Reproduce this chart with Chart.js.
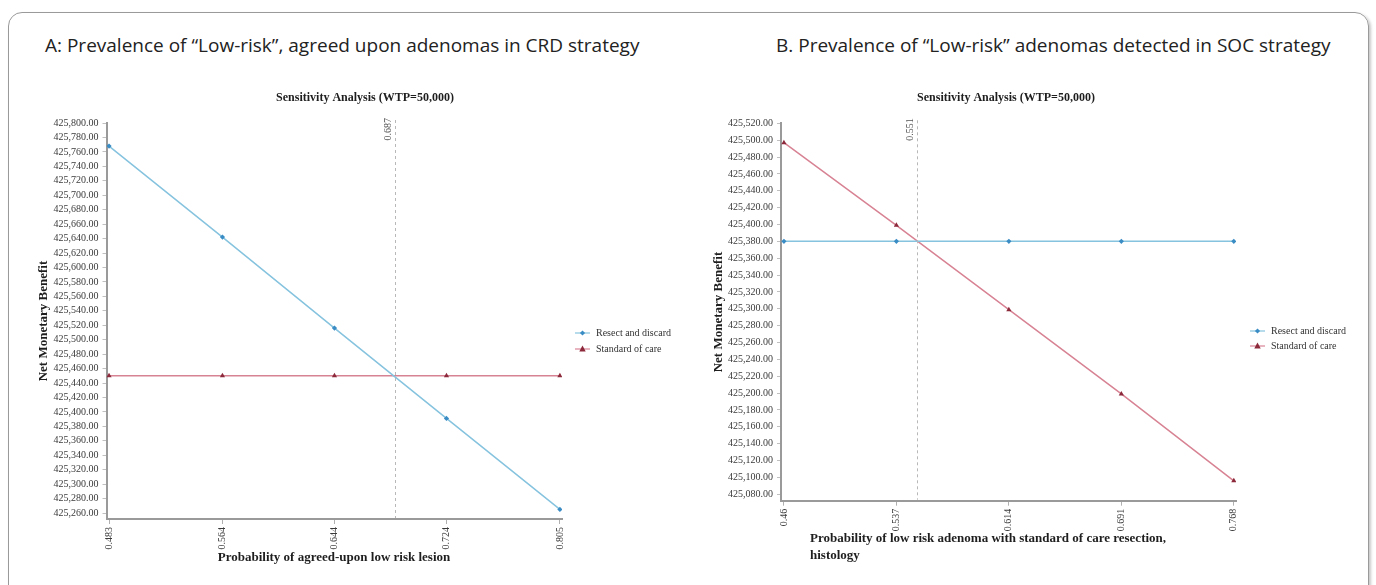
<!DOCTYPE html>
<html><head><meta charset="utf-8">
<script src="https://cdn.jsdelivr.net/npm/chart.js@4.4.0/dist/chart.umd.min.js"></script>
<style>
html,body{margin:0;padding:0;background:#fff;width:1376px;height:585px;overflow:hidden;}
#frame{position:absolute;left:8px;top:12px;width:1359px;height:640px;border:1px solid #9a9a9a;border-radius:14px;box-shadow:2px 2px 3px rgba(0,0,0,0.22);}
.ptitle{position:absolute;top:34px;font-family:"Open Sans",sans-serif;font-size:19px;line-height:23px;color:#222;white-space:nowrap;}
#tA{left:45px}
#tB{left:776px}
canvas{position:absolute;top:60px;}
#chartA{left:0}
#chartB{left:688px}
</style></head><body>
<div id="frame"></div>
<div class="ptitle" id="tA">A: Prevalence of “Low-risk”, agreed upon adenomas in CRD strategy</div>
<div class="ptitle" id="tB">B. Prevalence of “Low-risk” adenomas detected in SOC strategy</div>
<canvas id="chartA" width="688" height="525"></canvas>
<canvas id="chartB" width="688" height="525"></canvas>
<script>
// ---------- data ----------
const chartTitle = 'Sensitivity Analysis (WTP=50,000)';
const seriesNames = ['Resect and discard', 'Standard of care'];

const xA = [0.483, 0.564, 0.644, 0.724, 0.805];
const resectA = [425768, 425642, 425516, 425391, 425265];
const socA = [425450, 425450, 425450, 425450, 425450];
const yTicksA = [425260, 425280, 425300, 425320, 425340, 425360, 425380, 425400, 425420, 425440,
                 425460, 425480, 425500, 425520, 425540, 425560, 425580, 425600, 425620, 425640,
                 425660, 425680, 425700, 425720, 425740, 425760, 425780, 425800];
const thresholdA = 0.687;
const xTitleA = ['Probability of agreed-upon low risk lesion'];

const xB = [0.46, 0.537, 0.614, 0.691, 0.768];
const resectB = [425380, 425380, 425380, 425380, 425380];
const socB = [425497, 425399, 425299, 425199, 425096];
const yTicksB = [425080, 425100, 425120, 425140, 425160, 425180, 425200, 425220, 425240, 425260,
                 425280, 425300, 425320, 425340, 425360, 425380, 425400, 425420, 425440, 425460,
                 425480, 425500, 425520];
const thresholdB = 0.551;
const xTitleB = ['Probability of low risk adenoma with standard of care resection,', 'histology'];

// ---------- helpers ----------
const SERIF = '"Liberation Serif", "Times New Roman", serif';
function fmt(v){
  const s = Number(v).toFixed(2);
  const p = s.split('.');
  return p[0].replace(/\B(?=(\d{3})+(?!\d))/g, ',') + '.' + p[1];
}
function marker(ctx, style, x, y, r, color){
  ctx.fillStyle = color;
  ctx.beginPath();
  if (style === 'rectRot') {
    ctx.moveTo(x, y - r); ctx.lineTo(x + r, y); ctx.lineTo(x, y + r); ctx.lineTo(x - r, y);
  } else {
    ctx.moveTo(x, y - r); ctx.lineTo(x + r * 0.95, y + r * 0.7); ctx.lineTo(x - r * 0.95, y + r * 0.7);
  }
  ctx.closePath(); ctx.fill();
}

const extras = {
  id: 'extras',
  afterDraw(chart, args, o) {
    const ctx = chart.ctx, ca = chart.chartArea, xs = chart.scales.x;
    ctx.save();
    // chart title
    ctx.font = 'bold 12px ' + SERIF;
    ctx.fillStyle = '#1e1e1e';
    ctx.textAlign = 'center';
    ctx.textBaseline = 'middle';
    ctx.fillText(chartTitle, o.titleX, o.titleY);
    // threshold dashed line
    const px = Math.round(xs.getPixelForValue(o.ref)) + 0.5;
    ctx.strokeStyle = '#b8b8b8';
    ctx.lineWidth = 1;
    ctx.setLineDash([3, 3]);
    ctx.beginPath(); ctx.moveTo(px, ca.top - 3); ctx.lineTo(px, ca.bottom - 1); ctx.stroke();
    ctx.setLineDash([]);
    ctx.save();
    ctx.translate(px - 7, ca.top - 5);
    ctx.rotate(-Math.PI / 2);
    ctx.font = '10px ' + SERIF;
    ctx.fillStyle = '#555';
    ctx.textAlign = 'right';
    ctx.textBaseline = 'middle';
    ctx.fillText(String(o.ref), 0, 0);
    ctx.restore();
    // legend
    chart.data.datasets.forEach((ds, i) => {
      const ly = o.legendY[i];
      ctx.strokeStyle = ds.borderColor;
      ctx.lineWidth = 1.2;
      ctx.beginPath(); ctx.moveTo(o.legendX, ly); ctx.lineTo(o.legendX + 15, ly); ctx.stroke();
      marker(ctx, ds.pointStyle, o.legendX + 7.5, ly, ds.pointStyle === 'rectRot' ? 2.6 : 3.4, ds.pointBackgroundColor);
      ctx.font = '10px ' + SERIF;
      ctx.fillStyle = '#333';
      ctx.textAlign = 'left';
      ctx.textBaseline = 'middle';
      ctx.fillText(ds.label, o.legendX + 21, ly + 0.5);
    });
    // x axis title
    ctx.font = 'bold 13px ' + SERIF;
    ctx.fillStyle = '#1e1e1e';
    ctx.textAlign = o.xTitleAlign;
    ctx.textBaseline = 'middle';
    o.xTitle.forEach((t, i) => ctx.fillText(t, o.xTitleX, o.xTitleY + i * 17));
    ctx.restore();
  }
};

function makeChart(id, xs, resect, soc, yTicks, cfg) {
  return new Chart(document.getElementById(id), {
    type: 'line',
    data: {
      datasets: [
        { label: seriesNames[0], data: xs.map((x, i) => ({x: x, y: resect[i]})),
          borderColor: '#86c3de', borderWidth: 1.5, pointStyle: 'rectRot', pointRadius: 2.6,
          pointBackgroundColor: '#3a8cc4', pointBorderColor: '#3a8cc4', pointBorderWidth: 0, tension: 0 },
        { label: seriesNames[1], data: xs.map((x, i) => ({x: x, y: soc[i]})),
          borderColor: '#d88394', borderWidth: 1.5, pointStyle: 'triangle', pointRadius: 3,
          pointBackgroundColor: '#8c2a3c', pointBorderColor: '#8c2a3c', pointBorderWidth: 0, tension: 0 }
      ]
    },
    options: {
      responsive: false,
      animation: false,
      layout: { padding: { left: 0, top: cfg.padTop, right: cfg.padRight, bottom: 0 } },
      plugins: { legend: { display: false }, tooltip: { enabled: false }, title: { display: false }, extras: cfg.extras },
      scales: {
        x: {
          type: 'linear', min: cfg.xMin, max: cfg.xMax,
          afterBuildTicks: s => { s.ticks = xs.map(v => ({ value: v })); },
          afterFit: s => { s.height = cfg.xHeight; },
          ticks: { callback: v => String(v), minRotation: 90, maxRotation: 90, autoSkip: false,
                   font: { family: SERIF, size: 10 }, color: '#3a3a3a', padding: 3 },
          grid: { display: true, drawOnChartArea: false, drawTicks: true, tickLength: 5, color: '#b0b0b0' },
          border: { display: true, color: '#9a9a9a', width: 2 }
        },
        y: {
          type: 'linear', min: cfg.yMin, max: cfg.yMax,
          afterBuildTicks: s => { s.ticks = yTicks.map(v => ({ value: v })); },
          afterFit: s => { s.width = cfg.yWidth; },
          ticks: { callback: v => fmt(v), autoSkip: false, font: { family: SERIF, size: 10 }, color: '#3a3a3a', padding: 4 },
          grid: { display: true, drawOnChartArea: false, drawTicks: true, tickLength: 4, color: '#c0c0c0' },
          border: { display: true, color: '#9a9a9a', width: 2 },
          title: { display: true, text: 'Net Monetary Benefit', color: '#1e1e1e',
                   font: { family: SERIF, size: 13, weight: 'bold' }, padding: { top: cfg.yTitlePad, bottom: 0 } }
        }
      }
    },
    plugins: [extras]
  });
}

makeChart('chartA', xA, resectA, socA, yTicksA, {
  padTop: 63, padRight: 126, xHeight: 66, yWidth: 106.5, yTitlePad: 36,
  xMin: 0.4812, xMax: 0.8065, yMin: 425251.7, yMax: 425800,
  extras: { titleX: 365, titleY: 38, ref: thresholdA, legendX: 575, legendY: [273, 289],
            xTitle: xTitleA, xTitleX: 334, xTitleY: 498, xTitleAlign: 'center' }
});
makeChart('chartB', xB, resectB, socB, yTicksB, {
  padTop: 63.3, padRight: 140, xHeight: 84.3, yWidth: 93, yTitlePad: 23,
  xMin: 0.458, xMax: 0.7695, yMin: 425072.4, yMax: 425520,
  extras: { titleX: 318, titleY: 38, ref: thresholdB, legendX: 562, legendY: [271, 286],
            xTitle: xTitleB, xTitleX: 122, xTitleY: 479, xTitleAlign: 'left' }
});
</script>
</body></html>
